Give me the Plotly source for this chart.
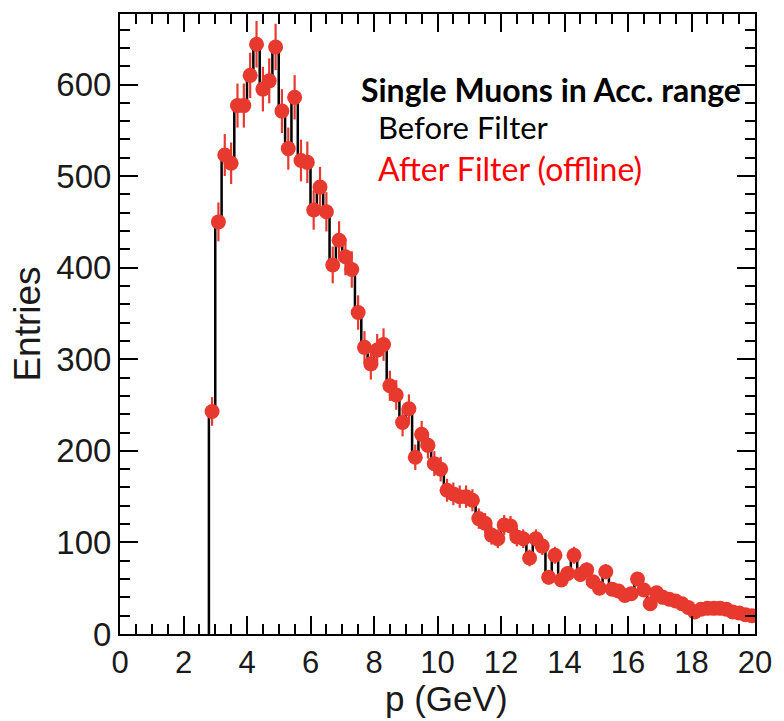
import numpy as np
import plotly.graph_objects as go

# Momentum histogram: 0.2 GeV bins, first filled bin starts at 2.8 GeV
bin_width = 0.2
first_edge = 2.8

# Entries after the offline filter (red points), one per bin
after_filter = [
    243, 450, 523, 514, 577, 577, 610, 644, 595, 604,
    641, 571, 530, 586, 517, 515, 463, 488, 461, 403,
    430, 412, 398, 351, 313, 295, 310, 316, 271, 261,
    231, 246, 193, 218, 206, 186, 180, 157, 153, 150,
    150, 146, 126, 121, 108, 104, 119, 118, 106, 104,
    83, 104, 96, 62, 86, 59, 66, 86, 65, 70,
    57, 50, 68, 49, 47, 42, 44, 60, 48, 33,
    45, 40, 38, 36, 33, 29, 24, 27, 28, 28,
    28, 27, 24, 23, 21, 20,
]

# Entries before the filter (black histogram line)
before_filter = [
    244, 451, 524, 515, 578, 578, 611, 645, 596, 605,
    642, 572, 531, 587, 518, 516, 464, 489, 462, 404,
    431, 413, 399, 352, 314, 296, 311, 317, 272, 262,
    232, 247, 194, 219, 207, 187, 181, 158, 154, 151,
    151, 147, 127, 122, 109, 105, 120, 119, 107, 105,
    84, 105, 97, 63, 87, 60, 67, 87, 66, 71,
    58, 51, 69, 50, 48, 43, 45, 61, 49, 34,
    46, 41, 39, 37, 34, 30, 25, 28, 29, 29,
    29, 28, 25, 24, 22, 21,
]

x_tick_vals = [0, 2, 4, 6, 8, 10, 12, 14, 16, 18, 20]
y_tick_vals = [0, 100, 200, 300, 400, 500, 600]

n_bins = len(after_filter)
centers = first_edge + bin_width * (np.arange(n_bins) + 0.5)
left_edges = centers - bin_width / 2

# Step outline: start from zero at the first edge, close at the last edge
step_x = np.concatenate([[left_edges[0]], left_edges, [left_edges[-1] + bin_width]])
step_y = np.concatenate([[0], before_filter, [before_filter[-1]]])

red = "#E8392E"

fig = go.Figure()

fig.add_trace(go.Scatter(
    x=step_x, y=step_y,
    mode="lines",
    line=dict(color="black", width=2.5, shape="hv"),
    hoverinfo="skip",
    showlegend=False,
))

fig.add_trace(go.Scatter(
    x=centers, y=after_filter,
    mode="markers",
    marker=dict(color=red, size=15, symbol="circle", line=dict(width=0)),
    error_y=dict(type="sqrt", color=red, thickness=2.2, width=0),
    showlegend=False,
))

sans = "Liberation Sans, Arial, sans-serif"

fig.update_xaxes(
    range=[0, 20],
    tickmode="array", tickvals=x_tick_vals,
    ticks="inside", ticklen=18, tickwidth=1.5, tickcolor="black",
    minor=dict(dtick=0.5, ticks="inside", ticklen=10, tickwidth=1.5, tickcolor="black"),
    showline=True, linewidth=2, linecolor="black", mirror="allticks",
    showgrid=False, zeroline=False,
    tickfont=dict(family=sans, size=31, color="#1a1a1a"),
)

fig.update_yaxes(
    range=[0, 677],
    tickmode="array", tickvals=y_tick_vals,
    ticks="inside", ticklen=18, tickwidth=1.5, tickcolor="black",
    minor=dict(dtick=20, ticks="inside", ticklen=10, tickwidth=1.5, tickcolor="black"),
    showline=True, linewidth=2, linecolor="black", mirror="allticks",
    showgrid=False, zeroline=False,
    tickfont=dict(family=sans, size=33, color="#1a1a1a"),
    title=dict(text="Entries", font=dict(family=sans, size=37, color="#1a1a1a"), standoff=4),
)

# x-axis title, placed slightly right of the plot centre
fig.add_annotation(
    xref="paper", yref="paper", x=0.514, y=-0.104,
    xanchor="center", yanchor="middle", showarrow=False,
    text="p (GeV)",
    font=dict(family=sans, size=35, color="#1a1a1a"),
)

label_font = "Lato, Open Sans, sans-serif"
fig.add_annotation(
    xref="paper", yref="paper", x=0.377, y=0.879,
    xanchor="left", yanchor="middle", showarrow=False,
    text="<b>Single Muons in Acc. range</b>",
    font=dict(family=label_font, size=32, color="black"),
)
fig.add_annotation(
    xref="paper", yref="paper", x=0.403, y=0.817,
    xanchor="left", yanchor="middle", showarrow=False,
    text="Before Filter",
    font=dict(family=label_font, size=31, color="black"),
)
fig.add_annotation(
    xref="paper", yref="paper", x=0.403, y=0.751,
    xanchor="left", yanchor="middle", showarrow=False,
    text="After Filter (offline)",
    font=dict(family=label_font, size=32, color="#FF0000"),
)

fig.update_layout(
    width=784, height=721,
    margin=dict(l=120, r=22, t=12, b=87),
    plot_bgcolor="white", paper_bgcolor="white",
)

fig.write_html("out.html")
